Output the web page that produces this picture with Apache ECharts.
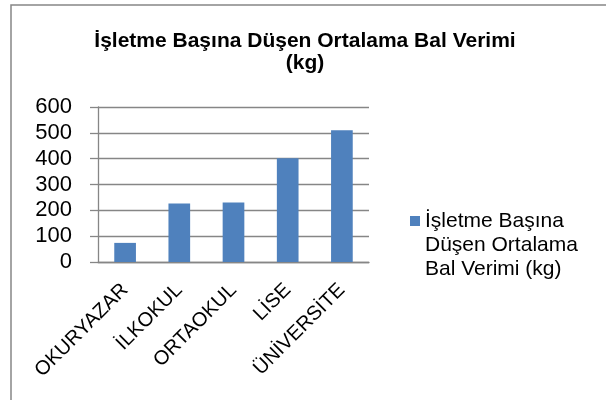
<!DOCTYPE html>
<html>
<head>
<meta charset="utf-8">
<script src="https://cdn.jsdelivr.net/npm/echarts@6/dist/echarts.min.js"></script>
<style>
    html, body { margin: 0; padding: 0; background: #fff; }
    #main { width: 606px; height: 400px; }
</style>
</head>
<body>
<div id="main"></div>
<script>
    var categories = ['OKURYAZAR', 'İLKOKUL', 'ORTAOKUL', 'LİSE', 'ÜNİVERSİTE'];
    var values = [74, 226, 230, 402, 510];
    var seriesName = 'İşletme Başına Düşen Ortalama Bal Verimi (kg)';
    var yTicks = { min: 0, max: 600, interval: 100 };

    var font = '"Liberation Sans", Arial, sans-serif';
    var gray = '#868686';

    var chart = echarts.init(document.getElementById('main'));
    chart.setOption({
        animation: false,
        backgroundColor: '#fff',
        textStyle: { fontFamily: font },
        graphic: [{
            type: 'rect',
            shape: { x: 11, y: 5, width: 800, height: 600 },
            style: { fill: 'none', stroke: gray, lineWidth: 1.5 },
            silent: true
        }],
        title: {
            text: 'İşletme Başına Düşen Ortalama Bal Verimi\n(kg)',
            left: 300,
            top: 25,
            textAlign: 'center',
            textStyle: {
                fontFamily: font,
                fontSize: 21,
                fontWeight: 'bold',
                color: '#000',
                lineHeight: 22
            }
        },
        legend: {
            orient: 'vertical',
            left: 405,
            top: 156,
            itemWidth: 10,
            itemHeight: 10,
            icon: 'rect',
            // two empty lines on top keep the icon beside the first line
            formatter: function () {
                return ' \n \nİşletme Başına\nDüşen Ortalama\nBal Verimi (kg)';
            },
            textStyle: {
                fontFamily: font,
                fontSize: 21,
                color: '#000',
                lineHeight: 24
            }
        },
        grid: { left: 98, right: 237, top: 107, bottom: 138 },
        xAxis: {
            type: 'category',
            data: categories,
            axisLine: { lineStyle: { color: gray, width: 1.3 } },
            axisTick: { length: 6, lineStyle: { color: gray, width: 1.3 } },
            axisLabel: {
                rotate: 45,
                interval: 0,
                margin: 25,
                fontFamily: font,
                fontSize: 20,
                color: '#000'
            }
        },
        yAxis: {
            type: 'value',
            min: yTicks.min,
            max: yTicks.max,
            interval: yTicks.interval,
            axisLine: { show: true, lineStyle: { color: gray, width: 1.3 } },
            axisTick: { show: true, length: 8, lineStyle: { color: gray, width: 1.3 } },
            splitLine: { lineStyle: { color: gray, width: 1.3 } },
            axisLabel: {
                margin: 26,
                fontFamily: font,
                fontSize: 22,
                color: '#000'
            }
        },
        series: [{
            name: seriesName,
            type: 'bar',
            data: values,
            barCategoryGap: '60%',
            itemStyle: { color: '#4F81BD' }
        }]
    });
</script>
</body>
</html>
